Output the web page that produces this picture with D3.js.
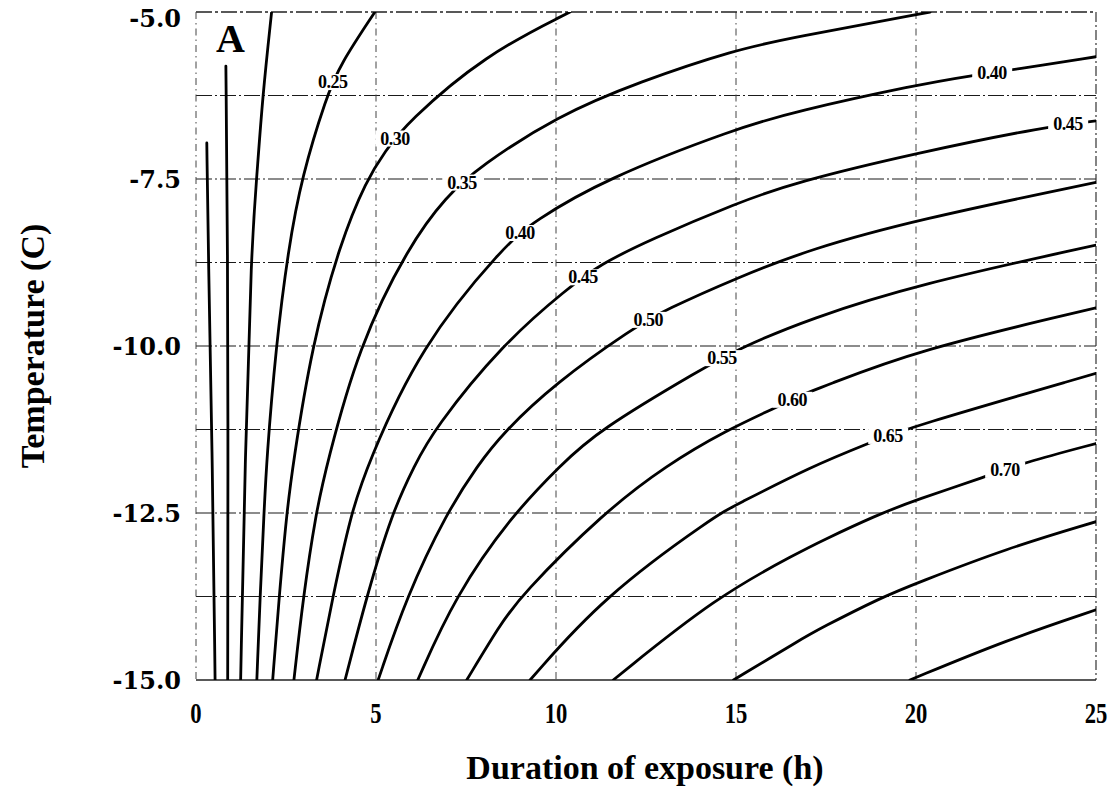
<!DOCTYPE html>
<html>
<head>
<meta charset="utf-8">
<script src="https://cdn.jsdelivr.net/npm/d3@7"></script>
<style>
  body { margin: 0; background: #fff; }
  svg { display: block; }
</style>
</head>
<body>
<svg id="chart" width="1119" height="791"></svg>
<script>
// Contour levels (fraction) and the isolines traced for each, as [duration h, temperature C]
const levels = [0.10, 0.15, 0.20, 0.25, 0.30, 0.35, 0.40, 0.45, 0.50, 0.55, 0.60, 0.65, 0.70, 0.75, 0.80];

const iso010 = [[0.30, -6.96], [0.34, -8.56], [0.46, -11.85], [0.53, -15.0]];
const iso015 = [[0.83, -5.81], [0.88, -8.56], [0.89, -11.85], [0.88, -15.0]];
const iso020 = [[2.10, -5.0], [1.85, -6.26], [1.69, -7.46], [1.54, -8.49], [1.36, -11.78], [1.24, -15.0]];
const iso025 = [[4.97, -5.0], [4.0, -5.79], [3.63, -6.26], [2.94, -7.46], [2.56, -8.56], [2.22, -10.01], [1.96, -11.71], [1.89, -12.50], [1.78, -13.75], [1.69, -15.0]];
const iso030 = [[10.39, -5.0], [8.03, -5.64], [5.85, -6.66], [5.25, -7.09], [4.74, -7.51], [4.0, -8.46], [3.21, -10.01], [2.69, -11.78], [2.52, -12.50], [2.31, -13.75], [2.13, -15.0]];
const iso035 = [[20.39, -5.0], [16.5, -5.39], [15.02, -5.56], [12.33, -6.04], [10.02, -6.56], [7.89, -7.31], [6.95, -7.76], [5.92, -8.49], [4.51, -10.01], [3.63, -11.78], [3.33, -12.50], [2.98, -13.75], [2.72, -15.0]];
const iso040 = [[25.0, -5.67], [22.75, -5.86], [21.55, -5.95], [20.02, -6.09], [16.64, -6.49], [15.02, -6.74], [11.31, -7.51], [9.37, -8.14], [8.58, -8.49], [6.22, -10.01], [4.76, -11.78], [4.31, -12.50], [3.80, -13.75], [3.35, -15.0]];
const iso045 = [[25.0, -6.63], [23.67, -6.71], [20.02, -7.11], [16.64, -7.55], [15.02, -7.86], [12.61, -8.41], [11.22, -8.78], [10.34, -9.13], [8.53, -9.96], [6.59, -11.26], [6.08, -11.78], [5.44, -12.50], [4.74, -13.75], [4.14, -15.0]];
const iso050 = [[25.0, -7.55], [20.02, -8.11], [17.06, -8.55], [15.02, -8.98], [13.03, -9.46], [12.15, -9.73], [9.97, -10.56], [8.53, -11.30], [7.83, -11.78], [6.96, -12.50], [5.85, -13.75], [5.06, -15.0]];
const iso055 = [[25.0, -8.49], [20.02, -9.08], [17.06, -9.59], [15.11, -10.03], [14.09, -10.33], [11.13, -11.28], [10.14, -11.78], [8.78, -12.53], [7.19, -13.75], [6.16, -15.0]];
const iso060 = [[25.0, -9.43], [20.02, -10.06], [17.33, -10.63], [16.86, -10.72], [16.08, -10.93], [14.74, -11.26], [13.08, -11.78], [11.31, -12.50], [9.0, -13.75], [8.44, -14.18], [7.52, -15.0]];
const iso065 = [[25.0, -10.41], [19.74, -11.23], [18.81, -11.43], [17.06, -11.81], [14.93, -12.40], [14.46, -12.53], [11.31, -13.75], [9.28, -15.0]];
const iso070 = [[25.0, -11.46], [22.97, -11.75], [21.92, -11.96], [20.02, -12.30], [18.91, -12.53], [17.33, -12.93], [16.78, -13.08], [14.46, -13.75], [11.59, -15.0]];
const iso075 = [[25.0, -12.63], [22.52, -13.03], [20.02, -13.55], [19.09, -13.75], [17.33, -14.23], [16.78, -14.40], [14.93, -15.0]];
const iso080 = [[25.0, -13.95], [22.52, -14.40], [19.83, -15.0]];

const isolines = [iso010, iso015, iso020, iso025, iso030, iso035, iso040, iso045,
                  iso050, iso055, iso060, iso065, iso070, iso075, iso080];

// Inline contour labels: which level, and the duration at which it sits on the line
const labelLevels    = [0.25, 0.30, 0.35, 0.40, 0.45, 0.50, 0.55, 0.60, 0.65, 0.70, 0.40, 0.45];
const labelDurations = [3.80, 5.53, 7.39, 9.00, 10.75, 12.56, 14.61, 16.56, 19.22, 22.47, 22.11, 24.22];

// Axes
const xTicks = [0, 5, 10, 15, 20, 25];
const xTickLabels = ["0", "5", "10", "15", "20", "25"];
const yTicks = [-5, -7.5, -10, -12.5, -15];
const yTickLabels = ["-5.0", "-7.5", "-10.0", "-12.5", "-15.0"];
const gridDurations = [5, 10, 15, 20];
const gridTemps = [-6.25, -7.5, -8.75, -10, -11.25, -12.5, -13.75];

const W = 1119, H = 791;
const margin = { top: 12, right: 23, bottom: 111, left: 196 };
const iw = W - margin.left - margin.right;
const ih = H - margin.top - margin.bottom;

const svg = d3.select("#chart");
const g = svg.append("g").attr("transform", `translate(${margin.left},${margin.top})`);

const x = d3.scaleLinear().domain([0, 25]).range([0, iw]);
const y = d3.scaleLinear().domain([-15, -5]).range([ih, 0]);

const serif = "'Liberation Serif', 'Times New Roman', serif";

// Grid lines
g.append("g").selectAll("line").data(gridTemps).join("line")
  .attr("x1", 0).attr("x2", iw)
  .attr("y1", d => y(d)).attr("y2", d => y(d))
  .attr("stroke", "#1a1a1a").attr("stroke-width", 1.1)
  .attr("stroke-dasharray", "16,3,2,3");

g.append("g").selectAll("line").data(gridDurations).join("line")
  .attr("x1", d => x(d)).attr("x2", d => x(d))
  .attr("y1", 0).attr("y2", ih)
  .attr("stroke", "#444").attr("stroke-width", 1)
  .attr("stroke-dasharray", "7,4,1.5,4");

// Frame
const frame = g.append("g").attr("fill", "none");
frame.append("line").attr("x1", 0).attr("x2", iw).attr("y1", 0).attr("y2", 0)
  .attr("stroke", "#222").attr("stroke-width", 1.3).attr("stroke-dasharray", "16,3,3,3");
frame.append("line").attr("x1", 0).attr("x2", 0).attr("y1", 0).attr("y2", ih)
  .attr("stroke", "#444").attr("stroke-width", 1).attr("stroke-dasharray", "7,4,1.5,4");
frame.append("line").attr("x1", iw).attr("x2", iw).attr("y1", 0).attr("y2", ih)
  .attr("stroke", "#333").attr("stroke-width", 1.2).attr("stroke-dasharray", "10,3,2,3");
frame.append("line").attr("x1", 0).attr("x2", iw).attr("y1", ih).attr("y2", ih)
  .attr("stroke", "#222").attr("stroke-width", 1.6);

// Contour lines
svg.append("defs").append("clipPath").attr("id", "plotClip")
  .append("rect").attr("x", 0).attr("y", 0).attr("width", iw).attr("height", ih);

const line = d3.line()
  .x(d => x(d[0])).y(d => y(d[1]))
  .curve(d3.curveBasis);

g.append("g").attr("clip-path", "url(#plotClip)")
  .selectAll("path").data(isolines).join("path")
  .attr("d", line)
  .attr("fill", "none")
  .attr("stroke", "#000")
  .attr("stroke-width", 2.8)
  .attr("stroke-linecap", "round");

// Position of a label on its isoline, interpolated along duration
function pointAt(level, dur) {
  const pts = isolines[levels.findIndex(l => Math.abs(l - level) < 1e-9)];
  for (let i = 0; i < pts.length - 1; i++) {
    const [x0, t0] = pts[i], [x1, t1] = pts[i + 1];
    if ((dur - x0) * (dur - x1) <= 0) {
      const f = x1 === x0 ? 0 : (dur - x0) / (x1 - x0);
      return [dur, t0 + f * (t1 - t0)];
    }
  }
  return pts[0];
}

const fmt = d3.format(".2f");
const labels = g.append("g").selectAll("g")
  .data(labelLevels.map((lv, i) => ({ level: lv, p: pointAt(lv, labelDurations[i]) })))
  .join("g")
  .attr("transform", d => `translate(${x(d.p[0])},${y(d.p[1])})`);

labels.append("rect").attr("fill", "#fff");
labels.append("text")
  .attr("text-anchor", "middle")
  .attr("dy", "0.35em")
  .attr("font-family", serif)
  .attr("font-weight", "bold")
  .attr("font-size", 18)
  .attr("letter-spacing", -0.5)
  .attr("fill", "#000")
  .text(d => fmt(d.level));
labels.each(function () {
  const bb = d3.select(this).select("text").node().getBBox();
  d3.select(this).select("rect")
    .attr("x", bb.x - 5).attr("y", bb.y + 2)
    .attr("width", bb.width + 10).attr("height", bb.height - 4);
});

// Panel letter
g.append("text")
  .attr("x", 20).attr("y", 40)
  .attr("font-family", serif).attr("font-weight", "bold").attr("font-size", 40)
  .text("A");

// Tick labels
g.append("g").selectAll("text").data(xTicks).join("text")
  .attr("transform", d => `translate(${x(d)},${ih + 43}) scale(0.78,1)`)
  .attr("text-anchor", "middle")
  .attr("font-family", serif).attr("font-weight", "bold").attr("font-size", 29)
  .text((d, i) => xTickLabels[i]);

// The top label is held just inside the canvas
g.append("g").selectAll("text").data(yTicks).join("text")
  .attr("x", -15).attr("y", d => Math.max(y(d), 6))
  .attr("dy", "0.36em")
  .attr("text-anchor", "end")
  .attr("font-family", "'DejaVu Serif', serif").attr("font-weight", "bold").attr("font-size", 24)
  .text((d, i) => yTickLabels[i]);

// Axis titles
svg.append("text")
  .attr("x", margin.left + iw / 2 - 1).attr("y", 779)
  .attr("text-anchor", "middle")
  .attr("font-family", serif).attr("font-weight", "bold").attr("font-size", 34)
  .text("Duration of exposure (h)");

svg.append("text")
  .attr("transform", `translate(44,${margin.top + ih / 2}) rotate(-90)`)
  .attr("text-anchor", "middle")
  .attr("font-family", serif).attr("font-weight", "bold").attr("font-size", 34)
  .text("Temperature (C)");
</script>
</body>
</html>
